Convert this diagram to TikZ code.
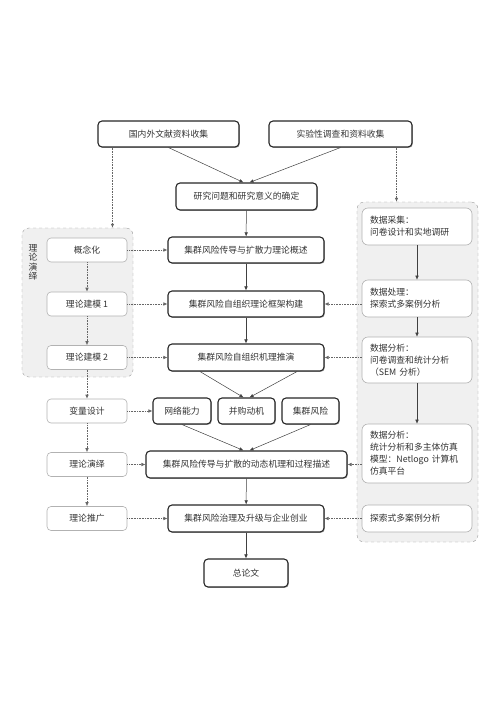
\documentclass[tikz,border=0pt]{standalone}
\usepackage{fontspec}
\setmainfont{Noto Sans CJK SC}
\usepackage{tikz}
\usetikzlibrary{arrows.meta,shadows}

\tikzset{
  mainbox/.style={draw=black!85, line width=1.1pt, rounded corners=4pt, fill=white,
    drop shadow={shadow xshift=0.9pt, shadow yshift=-0.9pt, opacity=0.6},
    minimum height=26pt, inner sep=0pt},
  sidebox/.style={draw=black!30, line width=0.6pt, rounded corners=4pt, fill=white,
    minimum width=80pt, minimum height=24pt, inner sep=0pt},
  databox/.style={draw=black!30, line width=0.6pt, rounded corners=6pt, fill=white,
    text width=94pt, align=left, inner xsep=8pt, inner ysep=0pt},
  region/.style={draw=black!40, dashed, fill=black!6, rounded corners=7pt, inner sep=0pt},
  flow/.style={-{Latex[length=4pt,width=3.5pt]}, draw=black!75, line width=0.5pt},
  hint/.style={-{Latex[length=4pt,width=3.5pt]}, draw=black!60, densely dotted, line width=0.6pt},
}

\begin{document}
\begin{tikzpicture}[x=1pt, y=-1pt, font=\fontsize{8.8}{12}\selectfont, text=black!80]
  % \draw[help lines, step=10] (0,0) grid (500,707);
  \useasboundingbox (0,0) rectangle (500,707);

  \node[region, minimum width=111pt, minimum height=149pt] (leftreg) at (77.5,302.5) {};
  \node[region, minimum width=121pt, minimum height=340pt] (rightreg) at (417.5,372) {};
  \node[anchor=north, align=center, font=\fontsize{8.8}{9.4}\selectfont] (leftname) at (33,241) {理\\论\\演\\绎};

  \node[mainbox, minimum width=141pt] (lit) at (168.5,134) {国内外文献资料收集};
  \node[mainbox, minimum width=143pt] (survey) at (340.5,134) {实验性调查和资料收集};
  \node[mainbox, minimum width=141pt, minimum height=27pt] (question) at (246.5,196.5) {研究问题和研究意义的确定};
  \node[mainbox, minimum width=156pt] (overview) at (246,250) {集群风险传导与扩散力理论概述};
  \node[mainbox, minimum width=156pt] (frame) at (246,304) {集群风险自组织理论框架构建};
  \node[mainbox, minimum width=156pt, minimum height=27pt] (mech) at (246,357.5) {集群风险自组织机理推演};
  \node[mainbox, minimum width=58pt] (net) at (182,411) {网络能力};
  \node[mainbox, minimum width=57pt] (merge) at (246.5,411) {并购动机};
  \node[mainbox, minimum width=57pt] (risk) at (310.5,411) {集群风险};
  \node[mainbox, minimum width=201pt, minimum height=27pt] (dynamic) at (246.5,464.5) {集群风险传导与扩散的动态机理和过程描述};
  \node[mainbox, minimum width=156pt, minimum height=27pt] (govern) at (246,518.5) {集群风险治理及升级与企业创业};
  \node[mainbox, minimum width=84pt, minimum height=28pt] (paper) at (246,573) {总论文};

  \node[sidebox] (concept) at (87,250) {概念化};
  \node[sidebox] (model1) at (87,304) {理论建模 1};
  \node[sidebox] (model2) at (87,357.5) {理论建模 2};
  \node[sidebox] (vardesign) at (87,411) {变量设计};
  \node[sidebox] (deduce) at (87,464.5) {理论演绎};
  \node[sidebox] (extend) at (87,518.5) {理论推广};

  \node[databox, minimum height=37pt] (collect) at (417,226.5) {数据采集：\\问卷设计和实地调研};
  \node[databox, minimum height=37pt] (process) at (417,298.5) {数据处理：\\探索式多案例分析};
  \node[databox, minimum height=46pt] (sem) at (417,360) {数据分析：\\问卷调查和统计分析\\（SEM 分析）};
  \node[databox, minimum height=59pt] (simul) at (417,453.5) {数据分析：\\统计分析和多主体仿真\\模型：Netlogo 计算机\\仿真平台};
  \node[databox, minimum height=27pt] (cases) at (417,518.5) {探索式多案例分析};

  \draw[flow] (lit.south) -- ([xshift=-3pt]question.north);
  \draw[flow] (survey.south) -- ([xshift=3pt]question.north);
  \draw[hint] ([xshift=15pt]lit.south west) -- ([xshift=15pt]lit.south west |- leftreg.north);
  \draw[hint] ([xshift=-16pt]survey.south east) -- ([xshift=-16pt]survey.south east |- rightreg.north);

  \draw[flow] (question) -- (overview);
  \draw[flow] (overview) -- (frame);
  \draw[flow] (frame) -- (mech);
  \draw[flow] ([xshift=-46pt]mech.south) -- ([xshift=-3pt]merge.north);
  \draw[flow] ([xshift=51pt]mech.south) -- ([xshift=3pt]merge.north);
  \draw[flow] (net.south) -- ([xshift=-3pt]dynamic.north);
  \draw[flow] (risk.south) -- ([xshift=3pt]dynamic.north);
  \draw[flow] (dynamic) -- (govern);
  \draw[flow] (govern) -- (paper);

  \draw[hint] (concept) -- (model1);
  \draw[hint] (model1) -- (model2);
  \draw[hint] (model2) -- (vardesign);
  \draw[hint] (vardesign) -- (deduce);
  \draw[hint] (deduce) -- (extend);
  \draw[hint] (concept) -- (overview);
  \draw[hint] (model1) -- (frame);
  \draw[hint] (model2) -- (mech);
  \draw[hint] (vardesign) -- (net);
  \draw[hint] (deduce) -- (dynamic);
  \draw[hint] (extend) -- (govern);

  \draw[flow] (collect) -- (process);
  \draw[flow] (process) -- (sem);
  \draw[flow] (sem) -- (simul);
  \draw[hint] (process.west |- frame) -- (frame.east);
  \draw[hint] (sem.west |- mech) -- (mech.east);
  \draw[hint] (simul.west |- dynamic) -- (dynamic.east);
  \draw[hint] (cases) -- (govern);
\end{tikzpicture}
\end{document}
